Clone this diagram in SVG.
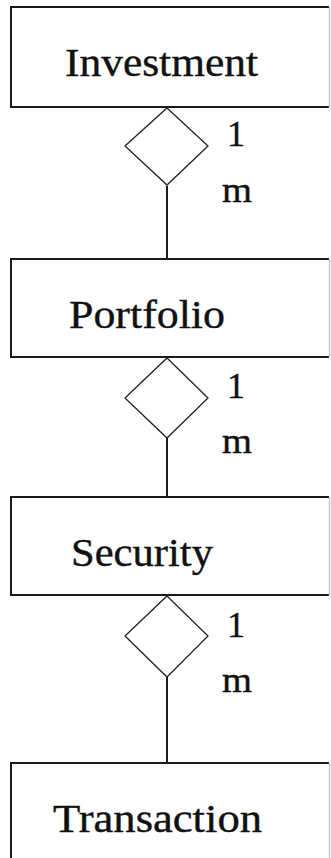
<svg xmlns="http://www.w3.org/2000/svg" width="331" height="858" viewBox="0 0 331 858">
<rect width="331" height="858" fill="#fff"/>
<g id="connectors" stroke="#1a1a1a" stroke-width="2">
<line x1="167" y1="186" x2="167" y2="259"/>
<line x1="167" y1="438" x2="167" y2="497"/>
<line x1="167" y1="677" x2="167" y2="763"/>
</g>
<g id="entities">
<g fill="none" stroke="#1a1a1a" stroke-width="2">
<path d="M329,7 H11 V107 H329"/>
<path d="M329,259 H11 V357 H329"/>
<path d="M329,497 H11 V595 H329"/>
<path d="M329,763 H11 V860"/>
</g>
<g stroke="#c8c8c8" stroke-width="1.5">
<line x1="329.5" y1="7" x2="329.5" y2="107"/>
<line x1="329.5" y1="259" x2="329.5" y2="357"/>
<line x1="329.5" y1="497" x2="329.5" y2="595"/>
<line x1="329.5" y1="763" x2="329.5" y2="858"/>
</g>
</g>
<g font-family="Liberation Serif" fill="#111" stroke="#111" stroke-width="0.4" font-size="40" lengthAdjust="spacingAndGlyphs">
<g id="investment"><text x="65" y="76" textLength="193" lengthAdjust="spacingAndGlyphs">Investment</text></g>
<g id="portfolio"><text x="69" y="328" textLength="156" lengthAdjust="spacingAndGlyphs">Portfolio</text></g>
<g id="security"><text x="71" y="566" textLength="142" lengthAdjust="spacingAndGlyphs">Security</text></g>
<g id="transaction"><text x="53" y="832" textLength="209" lengthAdjust="spacingAndGlyphs">Transaction</text></g>
</g>
<g fill="#fff" stroke="#222" stroke-width="1.3">
<polygon id="rel1" points="167,108 208,146 167,185 125,146"/>
<polygon id="rel2" points="167,358 208,398 167,438 125,398"/>
<polygon id="rel3" points="167,596 208,636 167,677 125,636"/>
</g>
<g id="cardinalities" font-family="Liberation Serif" font-size="36" fill="#111" stroke="#111" stroke-width="0.4">
<text x="227" y="146">1</text>
<text x="222" y="202" textLength="30" lengthAdjust="spacingAndGlyphs">m</text>
<text x="227" y="398">1</text>
<text x="222" y="453" textLength="30" lengthAdjust="spacingAndGlyphs">m</text>
<text x="227" y="637">1</text>
<text x="222" y="692" textLength="30" lengthAdjust="spacingAndGlyphs">m</text>
</g>
</svg>
